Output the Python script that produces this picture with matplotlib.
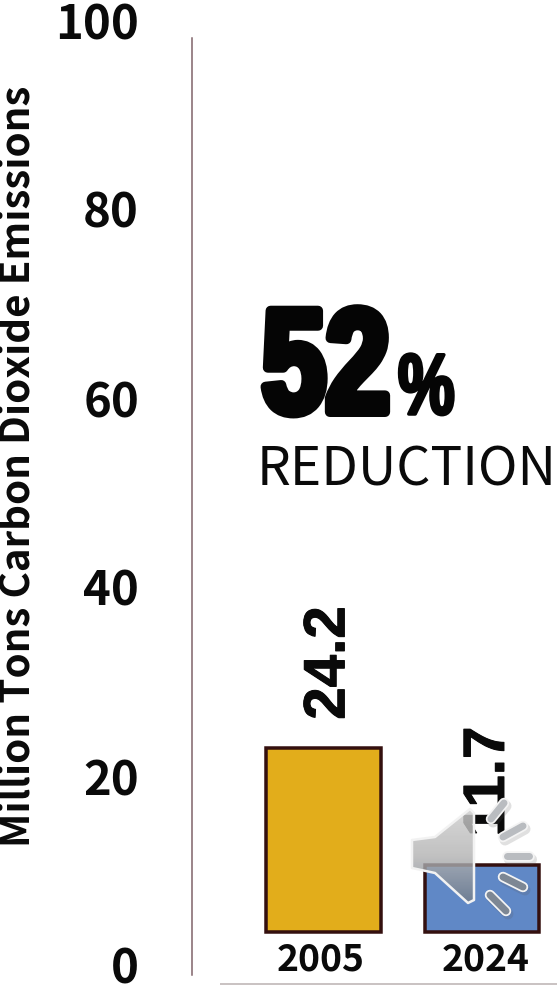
import matplotlib
matplotlib.use("Agg")
import matplotlib.pyplot as plt
import matplotlib.patheffects as pe
import numpy as np
from matplotlib.colors import LinearSegmentedColormap
from matplotlib.patches import Polygon
from matplotlib.transforms import Affine2D

# Emissions per year, million tons CO2
years = ["2005", "2024"]
emissions = [24.2, 11.7]
bar_colors = ["#E2AD1B", "#6088C6"]
y_ticks = [0, 20, 40, 60, 80, 100]
bar_floor = 4.6  # bars stop above the year labels

W, H = 557, 985
SANS = ["Noto Sans CJK SC", "DejaVu Sans"]
INK = "#0a0a0a"


class Condensed(pe.AbstractPathEffect):
    """Squeeze glyphs horizontally around x0 and fatten them with a stroke."""

    def __init__(self, x0, sx, stroke):
        super().__init__()
        self.x0, self.sx, self.stroke = x0, sx, stroke

    def draw_path(self, renderer, gc, tpath, affine, rgbFace=None):
        squeeze = Affine2D().translate(-self.x0, 0).scale(self.sx, 1).translate(self.x0, 0)
        gc0 = renderer.new_gc()
        gc0.copy_properties(gc)
        gc0.set_linewidth(self.stroke)
        gc0.set_foreground(rgbFace)
        renderer.draw_path(gc0, tpath, affine + squeeze, rgbFace)
        gc0.restore()


def px_axes(fig, left, top, right, bottom, **kw):
    """Axes placed with pixel edges, y counted from the top."""
    return fig.add_axes([left / W, 1 - bottom / H, (right - left) / W, (bottom - top) / H], **kw)


def px(v):
    return v * 72 / 100


fig = plt.figure(figsize=(W / 100, H / 100), dpi=100, facecolor="white")

# ── Bars ──────────────────────────────────────────────
ax = px_axes(fig, 192, 38, W, 975)
ax.set_ylim(0, 100)
ax.set_xlim(-0.83, 1.473)
x = np.arange(len(years))
heights = [v - bar_floor for v in emissions]
ax.bar(x, heights, width=0.72, bottom=bar_floor, color=bar_colors,
       edgecolor="#34100f", linewidth=px(3.5))
for spine in ["top", "right", "bottom"]:
    ax.spines[spine].set_visible(False)
ax.spines["left"].set_color("#7d6066")
ax.spines["left"].set_linewidth(px(1.5))
ax.set_xticks([])
ax.set_yticks([])
ax.patch.set_alpha(0)

year_shift = [-0.02, 0.02]
for i, year in enumerate(years):
    ax.text(i + year_shift[i], 1.6, year, ha="center", va="center", family=SANS,
            fontweight="bold", fontsize=26.8, color=INK)

label_shift = [4.2, 5.0]
for i, val in enumerate(emissions):
    ax.annotate(f"{val:.1f}", (i, val), xytext=(label_shift[i], 20.5),
                textcoords="offset points", rotation=90, ha="center", va="bottom",
                family=["Liberation Sans"], fontweight="bold", fontsize=42, color=INK,
                path_effects=[pe.withStroke(linewidth=px(1), foreground=INK)])

# ── Tick labels sit on their own, slightly wider scale ────
label_ax = px_axes(fig, 192, 20, W, 965)
label_ax.set_ylim(0, 100)
label_ax.set_yticks(y_ticks)
label_ax.set_yticklabels([str(t) for t in y_ticks], family=SANS, fontweight="bold",
                         fontsize=34, color=INK)
label_ax.tick_params(axis="y", length=0, pad=px(53))
label_ax.set_xticks([])
label_ax.patch.set_alpha(0)
for spine in label_ax.spines.values():
    spine.set_visible(False)

# ── Free text and overlay, pixel coordinates ──────────
ov = fig.add_axes([0, 0, 1, 1], zorder=5)
ov.set_xlim(0, W)
ov.set_ylim(H, 0)
ov.axis("off")

ov.plot([220, W], [984, 984], color="#b9b0b0", lw=px(1.5), solid_capstyle="butt")

ov.text(31, 466, "Million Tons Carbon Dioxide Emissions", rotation=90, ha="center", va="baseline",
        rotation_mode="anchor", family=SANS, fontweight="bold", fontsize=29, color=INK)

ov.text(262, 412, "52", ha="left", va="baseline", family=["Liberation Sans"], fontweight="bold",
        fontsize=106, color="#050505", path_effects=[Condensed(262, 0.78, px(10))])
ov.text(398, 414, "%", ha="left", va="baseline", family=["Liberation Sans"], fontweight="bold",
        fontsize=62, color="#050505", path_effects=[Condensed(398, 0.74, px(3.5))])
ov.text(257, 485, "REDUCTION", ha="left", va="baseline", family=SANS, fontweight="normal",
        fontsize=38.4, color=INK)

# Speaker icon
cone = [(412, 840), (435, 837), (470, 809), (474, 813), (474, 900), (468, 903), (435, 873), (412, 868)]
shape = Polygon(cone, closed=True, facecolor="none", edgecolor="#f2f2f2", lw=px(2.5),
                joinstyle="round", zorder=7)
ov.add_patch(shape)
shade = np.linspace(0, 1, 64).reshape(-1, 1)
img = ov.imshow(shade, extent=(410, 476, 905, 807),
                cmap=LinearSegmentedColormap.from_list("cone", ["#cfcfcf", "#b4b4b4", "#6f7a88"]),
                alpha=0.82, aspect="auto", zorder=6)
img.set_clip_path(shape)
ov.set_xlim(0, W)
ov.set_ylim(H, 0)

dashes = [((491, 819), (504, 803)), ((503, 837), (523, 826)), ((507, 856), (529, 856)),
          ((503, 877), (523, 887)), ((490, 895), (506, 911))]
dash_fill = ["#b9bcc0", "#b9bcc0", "#b9bcc0", "#7d8794", "#7d8794"]
for (a, b), col in zip(dashes, dash_fill):
    ov.plot([a[0] + 2, b[0] + 2], [a[1] + 3, b[1] + 3], color="#555555", alpha=0.18, lw=px(11),
            solid_capstyle="round", zorder=6.5)
    ov.plot([a[0], b[0]], [a[1], b[1]], color="#f4f4f4", lw=px(10.5), solid_capstyle="round", zorder=7)
    ov.plot([a[0], b[0]], [a[1], b[1]], color=col, lw=px(7), solid_capstyle="round", zorder=8)

fig.savefig("out.png", dpi=100)
plt.close()
